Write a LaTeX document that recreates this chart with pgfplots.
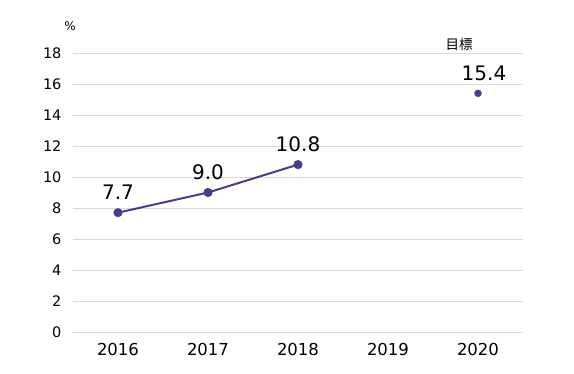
\documentclass[border=0pt]{standalone}
\usepackage{fontspec}
\setmainfont{DejaVu Sans}
\newfontfamily\cjk{Noto Sans CJK JP}
\usepackage{pgfplots}
\pgfplotsset{compat=1.18}
\definecolor{linec}{RGB}{72,61,139}
\definecolor{gridc}{RGB}{217,217,217}
\begin{document}
\begin{tikzpicture}
\begin{axis}[
  scale only axis,
  width=450pt, height=279pt,
  xmin=-0.5, xmax=4.5,
  ymin=0, ymax=18,
  xtick={0,1,2,3,4},
  xticklabels={2016,2017,2018,2019,2020},
  ytick={0,2,...,18},
  /pgf/number format/assume math mode=true,
  axis line style={draw=none},
  major tick length=0pt,
  ymajorgrids,
  grid style={gridc, line width=1pt},
  xticklabel style={font=\fontsize{16.5}{18}\selectfont, yshift=-8pt},
  yticklabel style={font=\fontsize{14.5}{16}\selectfont, xshift=-8pt},
  clip=false,
  nodes near coords={\pgfmathprintnumber[fixed,precision=1,fixed zerofill]{\pgfplotspointmeta}},
  every node near coord/.append style={font=\fontsize{20}{22}\selectfont, anchor=center, yshift=20pt, text=black},
]
\addplot[color=linec, line width=2pt, mark=*, mark size=3.5pt, mark options={fill=linec, draw=linec}] coordinates {(0,7.7) (1,9.0) (2,10.8)};
\addplot[color=linec, only marks, mark=*, mark size=3.5pt, mark options={fill=linec, draw=linec},
  every node near coord/.append style={xshift=6pt}] coordinates {(4,15.4)};
\node[font=\cjk\fontsize{13.5}{15}\selectfont] at (axis cs:3.79,18.58) {目標};
\node[font=\fontsize{12}{14}\selectfont] at (axis cs:-0.533,19.74) {\%};
\end{axis}
\path[use as bounding box] (-73pt,-41pt) rectangle (501pt,332pt);
\end{tikzpicture}
\end{document}
